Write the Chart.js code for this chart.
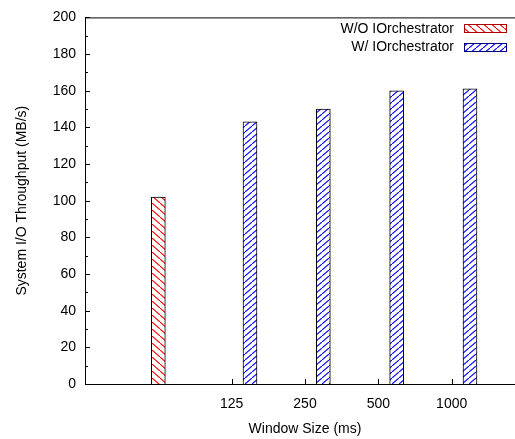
<!DOCTYPE html>
<html lang="en">
<head>
  <meta charset="UTF-8">
  <title>System I/O Throughput vs Window Size</title>
  <script src="https://cdn.jsdelivr.net/npm/chart.js"></script>
  <style>
    body { margin: 0; overflow: hidden; background: #fff; }
    /* plot is a bit wider than the window, its right edge is cropped like the original */
    #chart-container { position: relative; width: 530px; height: 439px; }
  </style>
</head>
<body>
  <div id="chart-container">
    <canvas id="throughputChart"></canvas>
  </div>

  <script>
    // Data
    const categories = ['', '125', '250', '500', '1000'];
    const withoutValues = [102, null, null, null, null];
    const withValues = [null, 143, 150, 160, 161];
    const seriesLabels = ['W/O IOrchestrator', 'W/ IOrchestrator'];

    const clusterShift = 0.25; // the "W/" bars sit right of their tick

    // hatch fill like the gnuplot patterns
    function hatch(color, w, h, backslash) {
      const c = document.createElement('canvas');
      c.width = w;
      c.height = h;
      const g = c.getContext('2d');
      g.fillStyle = '#fff';
      g.fillRect(0, 0, w, h);
      g.strokeStyle = color;
      g.lineWidth = 1.1;
      g.beginPath();
      if (backslash) {
        g.moveTo(-w, -h);
        g.lineTo(2 * w, 2 * h);
      } else {
        g.moveTo(-w, 2 * h);
        g.lineTo(2 * w, -h);
      }
      g.stroke();
      return g.createPattern(c, 'repeat');
    }

    const redHatch = hatch('#ff0000', 8, 7, true);
    const blueHatch = hatch('#0000ff', 7, 6, false);

    Chart.defaults.font.family = '"Liberation Sans", Arial, sans-serif';
    Chart.defaults.font.size = 14;
    Chart.defaults.color = '#000';

    // frame, inward ticks and the key inside the top right corner
    const framePlugin = {
      id: 'framePlugin',
      afterDraw(chart) {
        const ctx = chart.ctx;
        const area = chart.chartArea;
        const xs = chart.scales.x;
        const ys = chart.scales.y;
        ctx.save();
        ctx.strokeStyle = '#000';
        ctx.lineWidth = 1;
        ctx.beginPath();
        ctx.moveTo(area.right, area.top + 0.5);
        ctx.lineTo(area.left + 0.5, area.top + 0.5);
        ctx.lineTo(area.left + 0.5, area.bottom + 0.5);
        ctx.lineTo(area.right, area.bottom + 0.5);

        // y ticks, major and minor
        for (let v = ys.min; v <= ys.max; v += 10) {
          const y = Math.round(ys.getPixelForValue(v)) + 0.5;
          const len = v % 20 === 0 ? 5 : 3;
          ctx.moveTo(area.left, y);
          ctx.lineTo(area.left + len, y);
        }
        // x ticks
        xs.ticks.forEach(t => {
          const x = Math.round(xs.getPixelForValue(t.value)) + 0.5;
          ctx.moveTo(x, area.bottom);
          ctx.lineTo(x, area.bottom - 5);
        });
        ctx.stroke();

        // key
        const keyRight = 507;
        const sampleW = 43;
        const sampleH = 9;
        ctx.font = '14px "Liberation Sans", Arial, sans-serif';
        ctx.textAlign = 'right';
        ctx.textBaseline = 'middle';
        chart.data.datasets.forEach((ds, i) => {
          const cy = 28.5 + i * 18.5;
          ctx.fillStyle = '#000';
          ctx.fillText(ds.label, keyRight - sampleW - 10, cy + 0.5);
          const x0 = keyRight - sampleW;
          const y0 = Math.round(cy - sampleH / 2);
          ctx.fillStyle = ds.backgroundColor;
          ctx.fillRect(x0, y0, sampleW, sampleH);
          ctx.strokeStyle = ds.keyBorder;
          ctx.strokeRect(x0 + 0.5, y0 + 0.5, sampleW - 1, sampleH - 1);
        });
        ctx.restore();
      }
    };

    const ctx = document.getElementById('throughputChart').getContext('2d');
    new Chart(ctx, {
      type: 'bar',
      data: {
        datasets: [
          {
            label: seriesLabels[0],
            data: withoutValues.map((v, i) => ({ x: i, y: v })),
            backgroundColor: redHatch,
            borderColor: '#000',
            keyBorder: '#b00000',
            borderWidth: 1,
            barThickness: 14,
            grouped: false
          },
          {
            label: seriesLabels[1],
            data: withValues.map((v, i) => ({ x: i + clusterShift, y: v })),
            backgroundColor: blueHatch,
            borderColor: '#000',
            keyBorder: '#000080',
            borderWidth: 1,
            barThickness: 14,
            grouped: false
          }
        ]
      },
      options: {
        responsive: true,
        maintainAspectRatio: false,
        animation: false,
        layout: { padding: { top: 15, right: 5, left: 0, bottom: 0 } },
        plugins: {
          legend: { display: false },
          tooltip: { enabled: false }
        },
        scales: {
          x: {
            type: 'linear',
            offset: false,
            min: -1,
            max: 5,
            grid: { display: false, drawTicks: false },
            border: { display: false },
            afterBuildTicks: scale => {
              scale.ticks = categories
                .map((c, i) => ({ value: i }))
                .filter(t => categories[t.value] !== '');
            },
            afterFit: scale => { scale.height = 55; },
            ticks: {
              autoSkip: false,
              maxRotation: 0,
              padding: 12,
              callback: value => categories[value]
            },
            title: {
              display: true,
              text: 'Window Size (ms)',
              padding: { top: 0, bottom: 1 }
            }
          },
          y: {
            min: 0,
            max: 200,
            grid: { display: false, drawTicks: false },
            border: { display: false },
            afterFit: scale => { scale.width = 85; },
            ticks: {
              stepSize: 20,
              padding: 9
            },
            title: {
              display: true,
              text: 'System I/O Throughput (MB/s)',
              padding: { top: 14, bottom: 0 }
            }
          }
        }
      },
      plugins: [framePlugin]
    });
  </script>
</body>
</html>
